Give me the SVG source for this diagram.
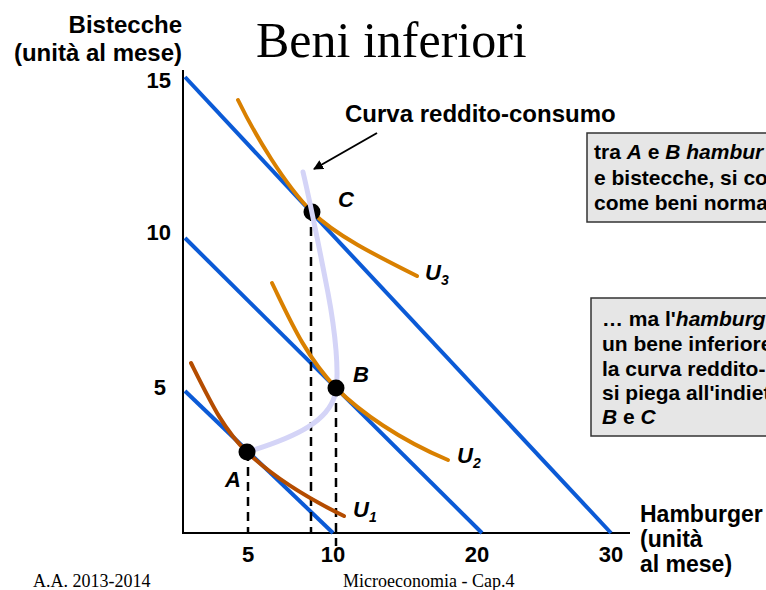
<svg xmlns="http://www.w3.org/2000/svg" width="766" height="590" viewBox="0 0 766 590">
<defs>
<style>
.lbl{font-family:"Liberation Sans",Arial,sans-serif;font-weight:bold;fill:#000}
.tick{font-family:"Liberation Sans",Arial,sans-serif;font-weight:bold;font-size:22px;fill:#000}
.pt{font-family:"Liberation Sans",Arial,sans-serif;font-weight:bold;font-style:italic;font-size:22px;fill:#000}
.box{font-family:"Liberation Sans",Arial,sans-serif;font-weight:bold;font-size:21px;fill:#000}
.serif{font-family:"Liberation Serif","Times New Roman",serif;fill:#000}
.budget{stroke:#0b5ad6;stroke-width:4;fill:none}
.ic{stroke:#d98000;stroke-width:4;fill:none;stroke-linecap:round}
.dash{stroke:#000;stroke-width:2.5;stroke-dasharray:9 6;fill:none}
.dot{fill:#000}
</style>
<marker id="ah" viewBox="0 0 10 10" refX="9" refY="5" markerWidth="5" markerHeight="5" orient="auto" markerUnits="strokeWidth">
<path d="M0,0 L10,5 L0,10 z" fill="#000"/>
</marker>
</defs>
<rect width="766" height="590" fill="#fff"/>

<text class="serif" x="256" y="57" font-size="50">Beni inferiori</text>

<g id="axes">
<line x1="183" y1="70" x2="183" y2="534" stroke="#000" stroke-width="2"/>
<line x1="182" y1="533" x2="630" y2="533" stroke="#000" stroke-width="2"/>
<text class="lbl" x="182" y="33" font-size="24" text-anchor="end">Bistecche</text>
<text class="lbl" x="182" y="61" font-size="24" text-anchor="end">(unità al mese)</text>
<text class="lbl" x="640" y="522" font-size="23">Hamburger</text>
<text class="lbl" x="640" y="547" font-size="23">(unità</text>
<text class="lbl" x="640" y="572" font-size="23">al mese)</text>
<text class="tick" x="171" y="88" text-anchor="end">15</text>
<text class="tick" x="171" y="240" text-anchor="end">10</text>
<text class="tick" x="166" y="395" text-anchor="end">5</text>
<text class="tick" x="248" y="562" text-anchor="middle">5</text>
<text class="tick" x="333" y="562" text-anchor="middle">10</text>
<text class="tick" x="477" y="562" text-anchor="middle">20</text>
<text class="tick" x="611" y="562" text-anchor="middle">30</text>
</g>

<g id="connectors">
<line class="budget" x1="185" y1="77" x2="611" y2="533"/>
<line class="budget" x1="185" y1="238" x2="482" y2="533"/>
<line class="budget" x1="185" y1="391" x2="333" y2="533"/>
<line class="dash" x1="248" y1="452" x2="248" y2="533"/>
<line class="dash" x1="311" y1="212" x2="311" y2="533"/>
<line class="dash" x1="336" y1="388" x2="336" y2="546"/>
<path d="M377,133 L314,169" stroke="#000" stroke-width="2" fill="none" marker-end="url(#ah)"/>
</g>

<g id="U1">
<path d="M191,363 C212,405 224,430 247,452 C272,476 305,497 344,516" stroke="#b44c00" stroke-width="4" fill="none" stroke-linecap="round"/>
<text class="pt" x="353" y="517">U<tspan font-size="14" dy="5">1</tspan></text>
</g>
<g id="U2">
<path class="ic" d="M272,283 C290,320 305,355 336,388 C360,412 400,440 448,460"/>
<text class="pt" x="457" y="463">U<tspan font-size="14" dy="5">2</tspan></text>
</g>
<g id="U3">
<path class="ic" d="M238,100 C255,135 285,185 312,212 C335,235 375,255 417,276"/>
<text class="pt" x="425" y="280">U<tspan font-size="14" dy="5">3</tspan></text>
</g>

<g id="C">
<circle class="dot" cx="312" cy="212" r="8.5"/>
<text class="pt" x="338" y="207">C</text>
</g>

<g id="curva-reddito-consumo">
<path d="M247,452 C300,436 328,420 335,395 C340,375 335,330 328,293 C322,262 312,210 303,172" stroke="#d4d4f7" stroke-width="5" fill="none" stroke-linecap="round"/>
<text class="lbl" x="345" y="122" font-size="24">Curva reddito-consumo</text>
</g>

<g id="A">
<circle class="dot" cx="247" cy="452" r="8.5"/>
<text class="pt" x="225" y="487">A</text>
</g>
<g id="B">
<circle class="dot" cx="336" cy="388" r="8.5"/>
<text class="pt" x="353" y="382">B</text>
</g>

<g id="box1">
<rect x="587" y="133" width="190" height="89" fill="#e6e6e6" stroke="#333" stroke-width="1.5"/>
<text class="box" x="594" y="159">tra <tspan font-style="italic">A</tspan> e <tspan font-style="italic">B hambur</tspan></text>
<text class="box" x="594" y="185">e bistecche, si co</text>
<text class="box" x="594" y="210">come beni norma</text>
</g>
<g id="box2">
<rect x="591" y="298" width="190" height="138" fill="#e6e6e6" stroke="#333" stroke-width="1.5"/>
<text class="box" x="602" y="326">… ma l'<tspan font-style="italic">hamburg</tspan></text>
<text class="box" x="602" y="351">un bene inferiore</text>
<text class="box" x="602" y="376">la curva reddito-</text>
<text class="box" x="602" y="400">si piega all'indiet</text>
<text class="box" x="602" y="424"><tspan font-style="italic">B</tspan> e <tspan font-style="italic">C</tspan></text>
</g>

<g id="footer">
<text class="serif" x="33" y="587" font-size="18">A.A. 2013-2014</text>
<text class="serif" x="343" y="587" font-size="18">Microeconomia - Cap.4</text>
</g>
</svg>
